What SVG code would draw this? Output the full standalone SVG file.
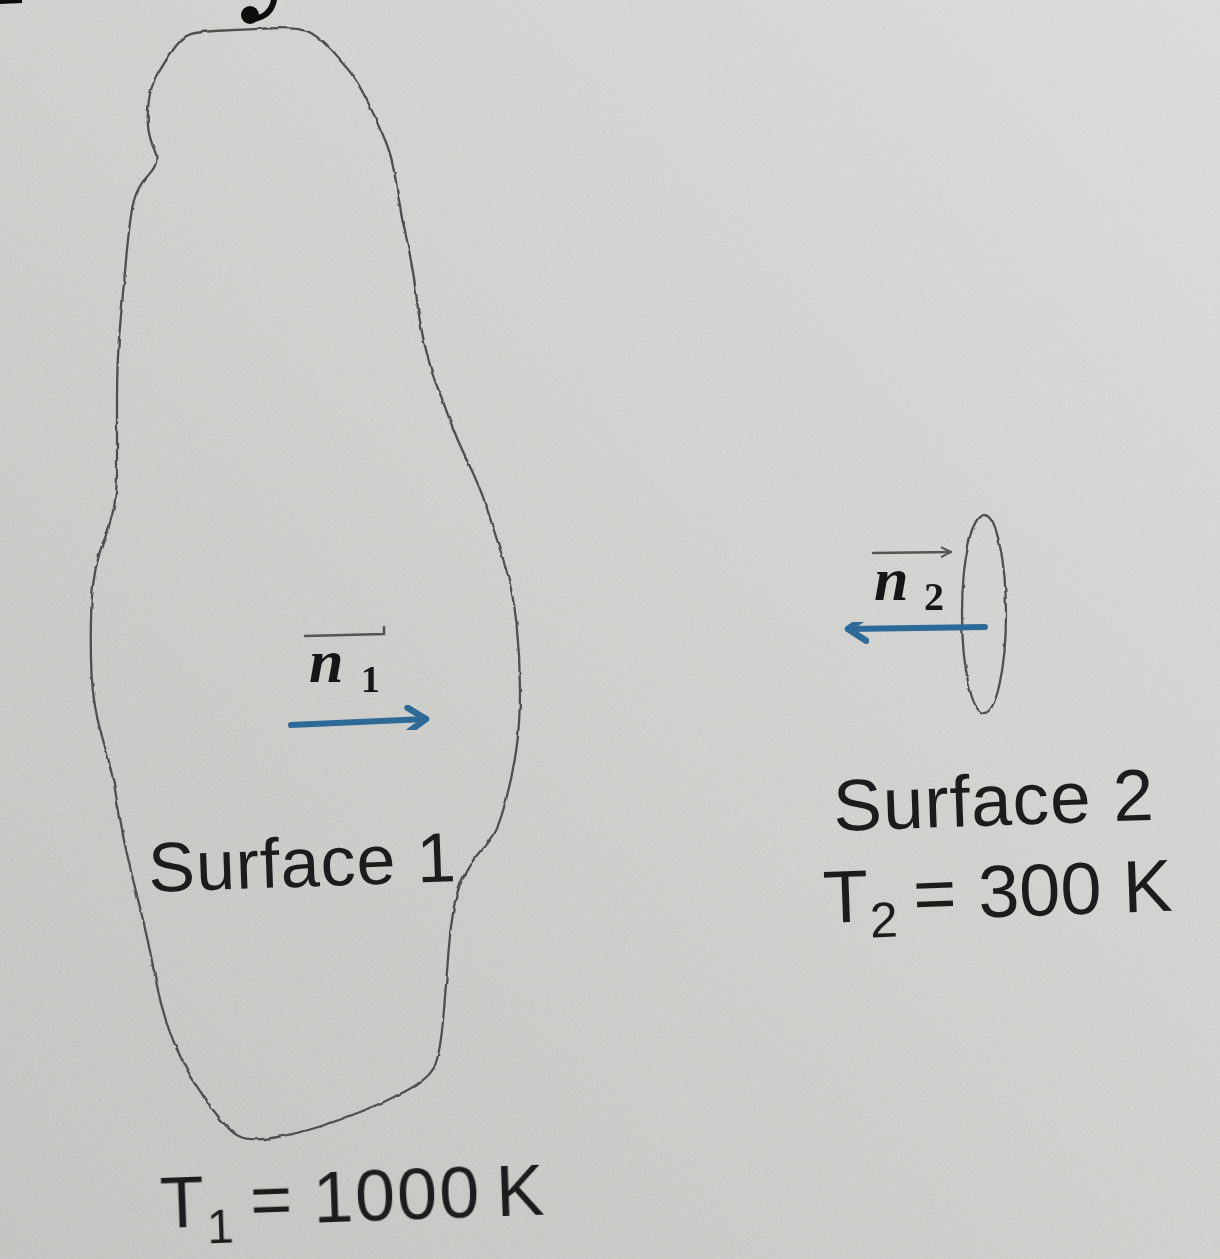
<svg xmlns="http://www.w3.org/2000/svg" width="1220" height="1259" viewBox="0 0 1220 1259">
  <defs>
    <linearGradient id="paper" x1="1" y1="0" x2="0" y2="1">
      <stop offset="0" stop-color="#d9d9d7"/>
      <stop offset="0.5" stop-color="#cdcdca"/>
      <stop offset="1" stop-color="#c1c1be"/>
    </linearGradient>
    <filter id="grain" x="0" y="0" width="100%" height="100%">
      <feTurbulence type="fractalNoise" baseFrequency="0.9 0.35" numOctaves="2" seed="4" result="n"/>
      <feColorMatrix type="matrix" values="0 0 0 0 1  0 0 0 0 1  0 0 0 0 1  0 0 0 0.55 -0.12" in="n"/>
    </filter>
    <filter id="soft" x="-5%" y="-5%" width="110%" height="110%">
      <feGaussianBlur stdDeviation="0.7"/>
    </filter>
    <filter id="pencil" x="-5%" y="-5%" width="110%" height="110%">
      <feTurbulence type="fractalNoise" baseFrequency="0.08" numOctaves="2" seed="7" result="t"/>
      <feDisplacementMap in="SourceGraphic" in2="t" scale="3" xChannelSelector="R" yChannelSelector="G" result="d"/>
      <feGaussianBlur in="d" stdDeviation="0.5"/>
    </filter>
    <marker id="bluehead" viewBox="0 0 26 30" refX="21" refY="15" markerWidth="26" markerHeight="30" markerUnits="userSpaceOnUse" orient="auto">
      <path d="M3,3 L21,15 L3,27" fill="none" stroke="#2f6a97" stroke-width="6.5" stroke-linejoin="round" stroke-linecap="round"/>
    </marker>
    <marker id="vechead" viewBox="0 0 12 12" refX="11" refY="6" markerWidth="12" markerHeight="12" markerUnits="userSpaceOnUse" orient="auto">
      <path d="M1,1 L11,6 L1,11" fill="none" stroke="#555" stroke-width="2"/>
    </marker>
  </defs>
  <style>
    .outline { fill: none; stroke: #505050; stroke-width: 2.3; stroke-linejoin: round; stroke-linecap: round; }
    .label { font-family: "Liberation Sans", Arial, sans-serif; fill: #1f1f1f; }
    .vec { font-family: "Liberation Serif", "Times New Roman", serif; font-weight: bold; font-style: italic; fill: #151515; }
    .sub { font-family: "Liberation Serif", "Times New Roman", serif; font-weight: bold; fill: #151515; }
    .bar { fill: none; stroke: #555; stroke-width: 2.6; stroke-linecap: round; }
    .normal { fill: none; stroke: #2f6a97; stroke-width: 6; stroke-linecap: round; }
  </style>

  <rect width="1220" height="1259" fill="url(#paper)"/>
  <rect width="1220" height="1259" filter="url(#grain)" opacity="0.35"/>

  <g id="handwriting-fragments" filter="url(#soft)">
    <path d="M274,0 C272,10 266,17 254,19" fill="none" stroke="#111" stroke-width="6" stroke-linecap="round"/>
    <circle cx="250" cy="15" r="9" fill="#111"/>
    <path d="M0,2 L22,1" stroke="#111" stroke-width="4"/>
  </g>

  <g id="surface1">
    <path class="outline" filter="url(#pencil)" d="M158,73.5 Q166,60 173,50 Q180,40 186.5,36 Q193,32 213,31 Q233,30 266.5,28.5 Q300,27 310,32.5 Q320,38 330,49 Q340,60 348.5,70 Q357,80 368.5,103.5 Q380,127 386.5,143.5 Q393,160 396.5,185 Q400,210 406.5,238.5 Q413,267 416.5,297 Q420,327 426.5,352 Q433,377 436.5,385 Q440,393 448.5,416.5 Q457,440 468.5,463.5 Q480,487 486.5,507 Q493,527 503,558.5 Q513,590 516.5,623.5 Q520,657 520,690 Q520,723 516.5,748 Q513,773 506.5,798 Q500,823 495,831.5 Q490,840 480,851.5 Q470,863 463.5,876.5 Q457,890 453.5,910 Q450,930 448.5,951.5 Q447,973 443.5,1015 Q440,1057 433.5,1068.5 Q427,1080 405,1091.5 Q383,1103 361.5,1111.5 Q340,1120 320,1126.5 Q300,1133 275,1137.5 Q250,1142 238.5,1136 Q227,1130 207,1101.5 Q187,1073 175,1045 Q163,1017 156.5,983.5 Q150,950 145,928.5 Q140,907 131.5,873.5 Q123,840 118,806.5 Q113,773 103,740 Q93,707 91.5,673.5 Q90,640 91.5,603.5 Q93,567 105,537 Q117,507 117,473.5 Q117,440 117,400 Q117,360 120,326.5 Q123,293 126.5,255 Q130,217 133.5,202 Q137,187 148.5,175 Q160,163 155,151.5 Q150,140 148.5,130 Q147,120 148.5,103.5 Q150,87 158,73.5 Z"/>
    <g id="n1-label" filter="url(#soft)">
      <path class="bar" d="M305,636 L384,634 L384,627"/>
      <text class="vec" x="309" y="682" font-size="62">n</text>
      <text class="sub" x="361" y="692" font-size="38">1</text>
    </g>
    <g filter="url(#soft)">
      <text class="label" x="149" y="892" font-size="70" letter-spacing="1" transform="rotate(-2 149 892)">Surface 1</text>
      <text class="label" x="161" y="1228" font-size="72" transform="rotate(-2 161 1228)">T<tspan x="207" dy="17" font-size="48">1</tspan><tspan x="251" dy="-17">=</tspan><tspan x="314" letter-spacing="2">1000</tspan><tspan x="497">K</tspan></text>
    </g>
  </g>

  <g id="surface2">
    <ellipse class="outline" filter="url(#pencil)" cx="984" cy="614" rx="22" ry="99"/>
    <g id="n2-label" filter="url(#soft)">
      <path class="bar" d="M873,553 L951,552" marker-end="url(#vechead)"/>
      <text class="vec" x="874" y="600" font-size="62">n</text>
      <text class="sub" x="924" y="610" font-size="40">2</text>
    </g>
    <g filter="url(#soft)">
      <text class="label" x="834" y="831" font-size="73" letter-spacing="1" transform="rotate(-2 834 831)">Surface 2</text>
      <text class="label" x="824" y="923" font-size="74" transform="rotate(-2 824 923)">T<tspan x="870" dy="16" font-size="50">2</tspan><tspan x="914" dy="-16">=</tspan><tspan x="979">300</tspan><tspan x="1124">K</tspan></text>
    </g>
  </g>

  <g id="connectors" filter="url(#soft)">
    <path class="normal" d="M291,725 L426,719" marker-end="url(#bluehead)"/>
    <path class="normal" d="M985,627 L848,629" marker-end="url(#bluehead)"/>
  </g>
</svg>
